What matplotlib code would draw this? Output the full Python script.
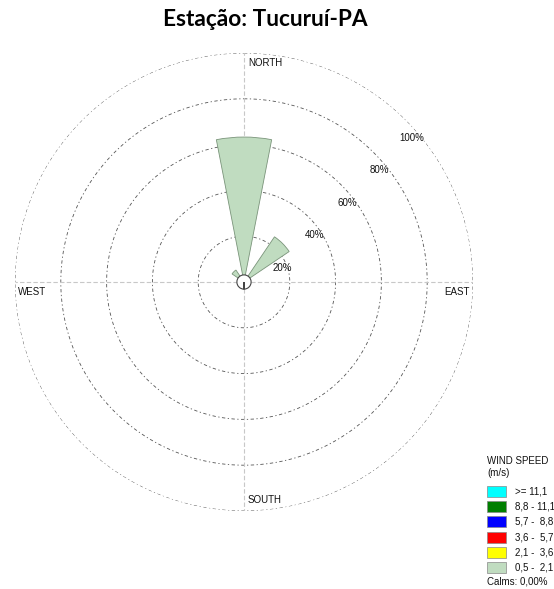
import numpy as np
import matplotlib
matplotlib.use("Agg")
import matplotlib.pyplot as plt
from matplotlib.patches import Rectangle

# wind direction frequencies (%) for the 0,5 - 2,1 m/s class, 16 sectors from N clockwise
directions = ["N", "NNE", "NE", "ENE", "E", "ESE", "SE", "SSE",
              "S", "SSW", "SW", "WSW", "W", "WNW", "NW", "NNW"]
freq_05_21 = [63.3, 0.0, 23.8, 0.0, 0.0, 0.0, 0.0, 0.0,
              0.0, 0.0, 0.0, 0.0, 0.0, 0.0, 6.3, 0.0]

ring_values = [20, 40, 60, 80, 100]
ring_labels = ["20%", "40%", "60%", "80%", "100%"]

speed_classes = [">= 11,1", "8,8 - 11,1", "5,7 -  8,8", "3,6 -  5,7", "2,1 -  3,6", "0,5 -  2,1"]
speed_colors = ["#00FFFF", "#007F00", "#0000FF", "#FF0000", "#FFFF00", "#C0DCC0"]
calms = "Calms: 0,00%"

W, H = 554, 589
fig = plt.figure(figsize=(W / 100, H / 100), dpi=100)

cx, cy, R = 244, 282, 229
ax = fig.add_axes([(cx - R) / W, (H - cy - R) / H, 2 * R / W, 2 * R / H], projection="polar")
ax.set_theta_zero_location("N")
ax.set_theta_direction(-1)
ax.set_ylim(0, 100)
ax.set_xticks([])
ax.set_yticks([])
ax.grid(False)
ax.spines["polar"].set_visible(False)
ax.patch.set_alpha(0)

theta = np.linspace(0, 2 * np.pi, 400)
for rv in ring_values:
    ax.plot(theta, np.full_like(theta, rv), color="#555555", lw=0.6,
            ls=(0, (4, 3, 1.5, 3)), zorder=1)

# cross through the centre
for a in [0, np.pi / 2, np.pi, 3 * np.pi / 2]:
    ax.plot([a, a], [0, 100], color="#c8c8c8", lw=0.8, ls=(0, (4, 2)), zorder=1)

angles = np.radians(np.arange(16) * 22.5)
ax.bar(angles, freq_05_21, width=np.radians(22), bottom=0,
       color=speed_colors[-1], edgecolor="#7a947a", linewidth=0.6, zorder=3)

# calm circle
ax.bar(0, 3.1, width=2 * np.pi, bottom=0, color="white", edgecolor="#444444",
       linewidth=0.8, zorder=4)

lab_font = dict(family="Liberation Sans", fontsize=7, color="#111111")
for rv, lab in zip(ring_values, ring_labels):
    ax.annotate(lab, xy=(np.pi / 4, rv), xytext=(6, -18), textcoords="offset pixels",
                ha="center", va="center", zorder=5, **lab_font)

ax.annotate("NORTH", xy=(0, 100), xytext=(4, -10), textcoords="offset pixels",
            ha="left", va="center", **lab_font)
ax.annotate("SOUTH", xy=(np.pi, 100), xytext=(4, 11), textcoords="offset pixels",
            ha="left", va="center", **lab_font)
ax.annotate("EAST", xy=(np.pi / 2, 100), xytext=(-3, -10), textcoords="offset pixels",
            ha="right", va="center", **lab_font)
ax.annotate("WEST", xy=(3 * np.pi / 2, 100), xytext=(3, -10), textcoords="offset pixels",
            ha="left", va="center", **lab_font)

fig.text(265 / W, 1 - 19 / H, "Estação: Tucuruí-PA", ha="center", va="center",
         family="Lato", fontweight="bold", fontsize=16.3)

# legend
lx, ly0, dy = 487, 491.5, 15.2
fig.text(lx / W, 1 - 461 / H, "WIND SPEED", ha="left", va="center", **lab_font)
fig.text(lx / W, 1 - 473 / H, "(m/s)", ha="left", va="center", **lab_font)
for i, (lab, col) in enumerate(zip(speed_classes, speed_colors)):
    yc = ly0 + i * dy
    fig.patches.append(Rectangle((lx / W, 1 - (yc + 5.5) / H), 19 / W, 11 / H,
                                 transform=fig.transFigure, facecolor=col,
                                 edgecolor="#888888", linewidth=0.5))
    fig.text(515 / W, 1 - yc / H, lab, ha="left", va="center", **lab_font)
fig.text(lx / W, 1 - 582 / H, calms, ha="left", va="center", **lab_font)

fig.savefig("out.png", dpi=100)
